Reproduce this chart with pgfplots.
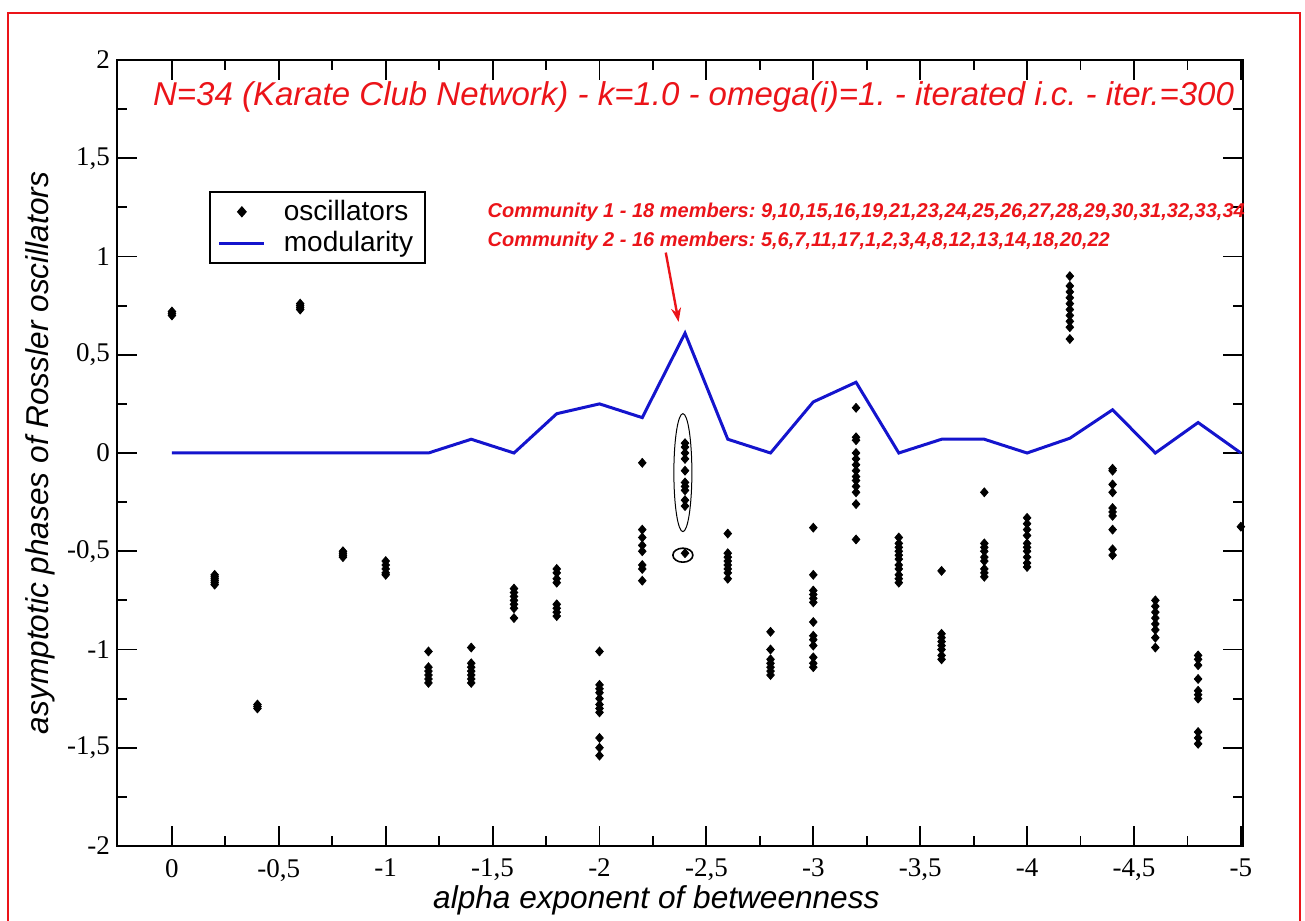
\documentclass[border=0pt]{standalone}
\usepackage{fontspec}
\setmainfont{Liberation Serif}
\setsansfont{Liberation Sans}
\usepackage{pgfplots}
\pgfplotsset{compat=1.18}
\usepackage{pgfplotstable}
\usetikzlibrary{arrows.meta}
\definecolor{modblue}{RGB}{20,20,205}
\definecolor{framered}{RGB}{235,20,25}
\frenchspacing

\pgfplotsset{
  lineleg/.style={legend image code/.code={\draw[##1] (0pt,0pt) -- (22.5pt,0pt);}},
  markleg/.style={legend image code/.code={\draw[##1,mark repeat=2,mark phase=2] plot coordinates {(0pt,0pt) (11.25pt,0pt) (22.5pt,0pt)};}},
}

\pgfplotstableread{
x y
0 0.70
0 0.71
0 0.72
-0.2 -0.62
-0.2 -0.63
-0.2 -0.64
-0.2 -0.65
-0.2 -0.66
-0.2 -0.67
-0.4 -1.28
-0.4 -1.29
-0.4 -1.30
-0.6 0.73
-0.6 0.74
-0.6 0.75
-0.6 0.76
-0.8 -0.50
-0.8 -0.51
-0.8 -0.52
-0.8 -0.53
-1.0 -0.55
-1.0 -0.57
-1.0 -0.59
-1.0 -0.61
-1.0 -0.62
-1.2 -1.01
-1.2 -1.09
-1.2 -1.11
-1.2 -1.13
-1.2 -1.15
-1.2 -1.17
-1.4 -0.99
-1.4 -1.07
-1.4 -1.09
-1.4 -1.11
-1.4 -1.13
-1.4 -1.15
-1.4 -1.17
-1.6 -0.69
-1.6 -0.71
-1.6 -0.73
-1.6 -0.75
-1.6 -0.77
-1.6 -0.79
-1.6 -0.84
-1.8 -0.59
-1.8 -0.61
-1.8 -0.64
-1.8 -0.66
-1.8 -0.77
-1.8 -0.79
-1.8 -0.81
-1.8 -0.83
-2.0 -1.01
-2.0 -1.18
-2.0 -1.20
-2.0 -1.22
-2.0 -1.25
-2.0 -1.28
-2.0 -1.30
-2.0 -1.32
-2.0 -1.45
-2.0 -1.50
-2.0 -1.54
-2.2 -0.05
-2.2 -0.39
-2.2 -0.43
-2.2 -0.47
-2.2 -0.50
-2.2 -0.57
-2.2 -0.59
-2.2 -0.65
-2.4 0.05
-2.4 0.03
-2.4 0.00
-2.4 -0.03
-2.4 -0.09
-2.4 -0.15
-2.4 -0.17
-2.4 -0.19
-2.4 -0.24
-2.4 -0.27
-2.4 -0.51
-2.6 -0.41
-2.6 -0.51
-2.6 -0.53
-2.6 -0.55
-2.6 -0.57
-2.6 -0.59
-2.6 -0.61
-2.6 -0.64
-2.8 -0.91
-2.8 -1.00
-2.8 -1.05
-2.8 -1.07
-2.8 -1.09
-2.8 -1.11
-2.8 -1.13
-3.0 -0.38
-3.0 -0.62
-3.0 -0.70
-3.0 -0.72
-3.0 -0.74
-3.0 -0.76
-3.0 -0.86
-3.0 -0.93
-3.0 -0.95
-3.0 -0.98
-3.0 -1.04
-3.0 -1.07
-3.0 -1.09
-3.2 0.23
-3.2 0.08
-3.2 0.065
-3.2 0.00
-3.2 -0.03
-3.2 -0.06
-3.2 -0.09
-3.2 -0.12
-3.2 -0.14
-3.2 -0.17
-3.2 -0.20
-3.2 -0.26
-3.2 -0.44
-3.4 -0.43
-3.4 -0.46
-3.4 -0.48
-3.4 -0.50
-3.4 -0.52
-3.4 -0.54
-3.4 -0.57
-3.4 -0.59
-3.4 -0.62
-3.4 -0.64
-3.4 -0.66
-3.6 -0.60
-3.6 -0.92
-3.6 -0.94
-3.6 -0.96
-3.6 -0.98
-3.6 -1.00
-3.6 -1.03
-3.6 -1.05
-3.8 -0.20
-3.8 -0.46
-3.8 -0.48
-3.8 -0.50
-3.8 -0.53
-3.8 -0.55
-3.8 -0.59
-3.8 -0.61
-3.8 -0.63
-4.0 -0.33
-4.0 -0.36
-4.0 -0.39
-4.0 -0.42
-4.0 -0.46
-4.0 -0.48
-4.0 -0.50
-4.0 -0.53
-4.0 -0.56
-4.0 -0.58
-4.2 0.90
-4.2 0.85
-4.2 0.82
-4.2 0.79
-4.2 0.76
-4.2 0.73
-4.2 0.70
-4.2 0.67
-4.2 0.64
-4.2 0.58
-4.4 -0.08
-4.4 -0.09
-4.4 -0.16
-4.4 -0.20
-4.4 -0.28
-4.4 -0.30
-4.4 -0.32
-4.4 -0.39
-4.4 -0.49
-4.4 -0.52
-4.6 -0.75
-4.6 -0.78
-4.6 -0.81
-4.6 -0.84
-4.6 -0.87
-4.6 -0.90
-4.6 -0.94
-4.6 -0.99
-4.8 -1.03
-4.8 -1.05
-4.8 -1.08
-4.8 -1.15
-4.8 -1.21
-4.8 -1.23
-4.8 -1.25
-4.8 -1.42
-4.8 -1.45
-4.8 -1.48
-5.0 -0.375
}\oscdata

\pgfplotstableread{
x y
0 0
-0.2 0
-0.4 0
-0.6 0
-0.8 0
-1.0 0
-1.2 0
-1.4 0.07
-1.6 0
-1.8 0.20
-2.0 0.25
-2.2 0.18
-2.4 0.61
-2.6 0.07
-2.8 0
-3.0 0.26
-3.2 0.36
-3.4 0
-3.6 0.07
-3.8 0.07
-4.0 0
-4.2 0.075
-4.4 0.22
-4.6 0
-4.8 0.155
-5.0 0
}\moddata

\begin{document}
\begin{tikzpicture}
\path[use as bounding box] (-58.5pt,-37pt) rectangle (594pt,423pt);
\draw[framered, line width=1pt] (-54.5pt,-45pt) -- (-54.5pt,416.5pt) -- (591.5pt,416.5pt) -- (591.5pt,-45pt);
\begin{axis}[
  scale only axis, width=563pt, height=393pt,
  x dir=reverse, xmin=-5.01, xmax=0.257, ymin=-2, ymax=2,
  xtick={-5,-4.5,-4,-3.5,-3,-2.5,-2,-1.5,-1,-0.5,0},
  ytick={-2,-1.5,-1,-0.5,0,0.5,1,1.5,2},
  minor x tick num=1, minor y tick num=1,
  tick align=inside,
  major tick length=10pt, minor tick length=5pt,
  axis line style={line width=0.9pt},
  tick style={line width=0.9pt, black},
  tick label style={font=\fontsize{13.5}{13.5}\selectfont},
  xticklabel style={yshift=-3pt},
  /pgf/number format/assume math mode=true,
  /pgf/number format/use comma,
  xlabel={alpha exponent of betweenness},
  ylabel={asymptotic phases of Rossler oscillators},
  label style={font=\sffamily\itshape\fontsize{15.8}{15.8}\selectfont},
  xlabel style={at={(axis description cs:0.479,-0.0687)}, anchor=center},
  ylabel style={at={(axis description cs:-0.0684,0.5)}, anchor=center},
  clip=false,
  legend style={at={(0.0817,0.833)}, anchor=north west, draw=black, line width=0.9pt,
    font=\sffamily\fontsize{14}{14.5}\selectfont, inner xsep=4pt, inner ysep=2pt, row sep=0pt, column sep=7pt},
  legend cell align=left,
]
\addplot[only marks, mark=diamond*, mark size=2.2pt, mark options={xscale=1.15}, black, markleg]
  table[x=x,y=y] {\oscdata};
\addplot[modblue, line width=1.5pt, mark=none, lineleg]
  table[x=x,y=y] {\moddata};
\legend{oscillators, modularity}

\node[framered, font=\sffamily\itshape\fontsize{16.5}{17}\selectfont] at (axis cs:-2.44,1.81)
  {N=34 (Karate Club Network) - k=1.0 - omega(i)=1. - iterated i.c. - iter.=300};
\node[framered, anchor=west, inner sep=0pt, font=\sffamily\bfseries\itshape\fontsize{10}{10}\selectfont] at (axis cs:-1.475,1.226)
  {Community 1 - 18 members: 9,10,15,16,19,21,23,24,25,26,27,28,29,30,31,32,33,34};
\node[framered, anchor=west, inner sep=0pt, font=\sffamily\bfseries\itshape\fontsize{10}{10}\selectfont] at (axis cs:-1.475,1.079)
  {Community 2 - 16 members: 5,6,7,11,17,1,2,3,4,8,12,13,14,18,20,22};
\draw[framered, line width=1.2pt, -{Stealth[length=7pt,width=5pt]}] (axis cs:-2.31,1.02) -- (axis cs:-2.37,0.667);
\draw[black, line width=0.5pt] (axis cs:-2.39,-0.1) ellipse [x radius=4.5pt, y radius=29.5pt];
\draw[black, line width=0.8pt] (axis cs:-2.39,-0.52) ellipse [x radius=5pt, y radius=3.5pt];
\end{axis}
\end{tikzpicture}
\end{document}
